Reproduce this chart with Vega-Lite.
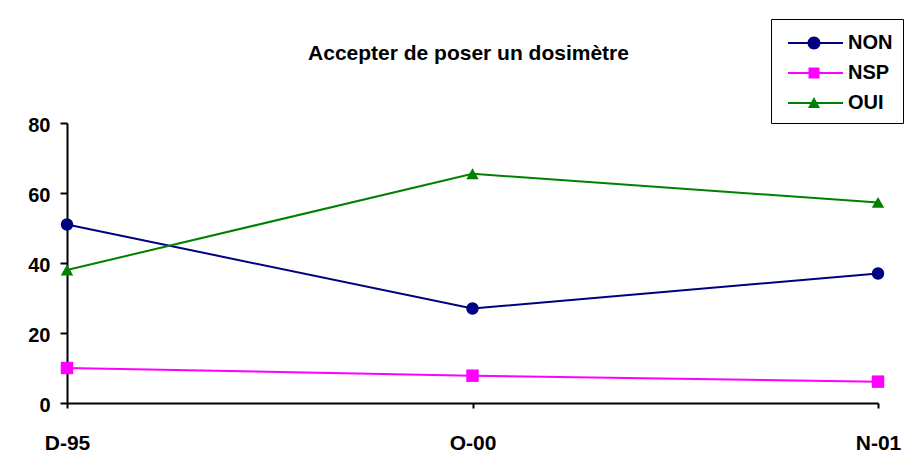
{
  "$schema": "https://vega.github.io/schema/vega-lite/v6.json",
  "width": 811,
  "height": 280,
  "autosize": "none",
  "padding": {"left": 67, "top": 123, "right": 36, "bottom": 63},
  "background": "white",
  "title": {
    "text": "Accepter de poser un dosimètre",
    "font": "Liberation Sans",
    "fontSize": 21,
    "fontWeight": "bold",
    "color": "black",
    "anchor": "middle",
    "baseline": "alphabetic",
    "offset": 0,
    "dx": -4,
    "dy": 62
  },
  "data": {
    "values": [
      {"period": "D-95", "series": "NON", "value": 51},
      {"period": "O-00", "series": "NON", "value": 27},
      {"period": "N-01", "series": "NON", "value": 37},
      {"period": "D-95", "series": "NSP", "value": 10},
      {"period": "O-00", "series": "NSP", "value": 7.8},
      {"period": "N-01", "series": "NSP", "value": 6.1},
      {"period": "D-95", "series": "OUI", "value": 38},
      {"period": "O-00", "series": "OUI", "value": 65.5},
      {"period": "N-01", "series": "OUI", "value": 57.3}
    ]
  },
  "config": {
    "view": {"stroke": null},
    "axis": {
      "labelFont": "Liberation Sans",
      "labelFontWeight": "bold",
      "labelFontSize": 20,
      "labelColor": "black",
      "domainColor": "black",
      "domainWidth": 2,
      "tickColor": "black",
      "tickWidth": 2,
      "grid": false,
      "title": null
    },
    "legend": {
      "labelFont": "Liberation Sans",
      "labelFontWeight": "bold",
      "labelFontSize": 20,
      "labelColor": "black"
    }
  },
  "layer": [
    {
      "mark": {"type": "line", "strokeWidth": 2},
      "encoding": {
        "x": {
          "field": "period",
          "type": "ordinal",
          "sort": ["D-95", "O-00", "N-01"],
          "scale": {"type": "point", "padding": 0},
          "axis": {"labelAngle": 0, "tickSize": 5, "labelPadding": 24, "labelFontSize": 21}
        },
        "y": {
          "field": "value",
          "type": "quantitative",
          "scale": {"domain": [0, 80], "nice": false},
          "axis": {"values": [0, 20, 40, 60, 80], "tickSize": 7, "labelPadding": 10, "labelOffset": 2}
        },
        "color": {
          "field": "series",
          "type": "nominal",
          "scale": {"domain": ["NON", "NSP", "OUI"], "range": ["#000080", "#FF00FF", "#008000"]},
          "legend": null
        }
      }
    },
    {
      "mark": {"type": "point", "filled": true, "opacity": 1, "size": 155},
      "encoding": {
        "x": {
          "field": "period",
          "type": "ordinal",
          "sort": ["D-95", "O-00", "N-01"]
        },
        "y": {"field": "value", "type": "quantitative"},
        "color": {
          "field": "series",
          "type": "nominal",
          "scale": {"domain": ["NON", "NSP", "OUI"], "range": ["#000080", "#FF00FF", "#008000"]},
          "legend": null
        },
        "shape": {
          "field": "series",
          "type": "nominal",
          "scale": {"domain": ["NON", "NSP", "OUI"], "range": ["circle", "square", "triangle-up"]},
          "legend": null
        }
      }
    },
    {
      "transform": [{"filter": "datum.value < 0"}],
      "mark": {"type": "point", "filled": true, "opacity": 1},
      "encoding": {
        "color": {
          "field": "series",
          "type": "nominal",
          "scale": {"domain": ["NON", "NSP", "OUI"], "range": ["#000080", "#FF00FF", "#008000"]},
          "legend": {
            "title": null,
            "orient": "none",
            "legendX": 704,
            "legendY": -104,
            "symbolSize": 784,
            "symbolStrokeWidth": 0,
            "rowPadding": 6,
            "labelOffset": 39,
            "padding": 10,
            "strokeColor": "black",
            "fillColor": "white",
            "encode": {"legend": {"update": {"strokeWidth": {"value": 2}}}}
          }
        },
        "shape": {
          "field": "series",
          "type": "nominal",
          "scale": {
            "domain": ["NON", "NSP", "OUI"],
            "range": [
              "M-0.5,-0.071H3.429V0.071H-0.5Z M0.893,0A0.464,0.464 0 1,1 1.821,0A0.464,0.464 0 1,1 0.893,0Z",
              "M-0.5,-0.071H3.429V0.071H-0.5Z M0.964,-0.393H1.75V0.393H0.964Z",
              "M-0.5,-0.071H3.429V0.071H-0.5Z M1.357,-0.43L1.787,0.36H0.927Z"
            ]
          },
          "legend": {
            "title": null,
            "orient": "none",
            "legendX": 704,
            "legendY": -104,
            "symbolSize": 784,
            "symbolStrokeWidth": 0,
            "rowPadding": 6,
            "labelOffset": 39,
            "padding": 10,
            "strokeColor": "black",
            "fillColor": "white",
            "encode": {"legend": {"update": {"strokeWidth": {"value": 2}}}}
          }
        }
      }
    }
  ],
  "resolve": {"scale": {"color": "independent", "shape": "independent"}}
}
